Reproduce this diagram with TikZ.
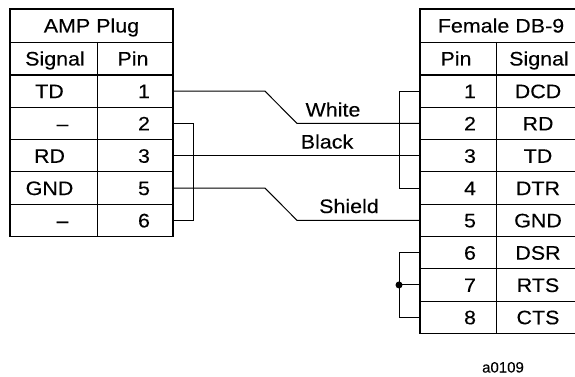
\documentclass[tikz,border=0pt]{standalone}
\usepackage{fontspec}
\setmainfont[FakeStretch=1.1,FakeBold=0.2]{Liberation Sans}
\newfontfamily\plainsans[FakeBold=0.2]{Liberation Sans}
\begin{document}
\begin{tikzpicture}[x=1pt,y=-1pt,
  frame/.style={line width=1.5pt},
  grid/.style={line width=0.9pt},
  hline/.style={line width=2pt},
  wire/.style={line width=1pt},
  txt/.style={font=\fontsize{19.5}{21}\selectfont, inner sep=0pt, anchor=base},
  lbl/.style={font=\fontsize{19.5}{21}\selectfont, inner sep=0pt, anchor=base},
  tag/.style={font=\plainsans\fontsize{15}{17}\selectfont, inner sep=0pt, anchor=base},
  joint/.style={circle, fill=black, inner sep=0pt, minimum size=7pt}]
\useasboundingbox (0,0) rectangle (575,377);
\def\rh{32.3}
% ---------- left table ----------
\draw[grid] (10,42) -- (173,42);
\foreach \k in {1,...,4} \draw[grid] (10,75+\k*\rh) -- (173,75+\k*\rh);
\draw[grid] (97,42) -- (97,236.5);
\draw[hline] (10,75) -- (173,75);
\draw[frame] (10,9) rectangle (173,236.5);
% ---------- right table ----------
\draw[grid] (420,42) -- (582,42);
\foreach \k in {1,...,7} \draw[grid] (420,75+\k*\rh) -- (582,75+\k*\rh);
\draw[grid] (496,42) -- (496,333.4);
\draw[hline] (420,75) -- (582,75);
\draw[frame] (420,9) rectangle (582,333.4);
% ---------- headers ----------
\node[txt] (lhead) at (91.5,32.5) {AMP Plug};
\node[txt] (lsig) at (55,65.5) {Signal};
\node[txt] (lpin) at (133,65.5) {Pin};
\node[txt] (rhead) at (501,32.5) {Female DB-9};
\node[txt] (rpin) at (456,65.5) {Pin};
\node[txt] (rsig) at (539,65.5) {Signal};
% ---------- left rows ----------
\foreach \i/\s/\p/\sx in {1/TD/1/49.5, 2/--/2/62.5, 3/RD/3/49.5, 4/GND/5/49.5, 5/--/6/62.5}{
  \node[txt] (ls\i) at (\sx,75+\i*\rh-\rh/2+7) {\s};
  \node[txt] (lp\i) at (144,75+\i*\rh-\rh/2+7) {\p};
  \coordinate (L\i) at (173,75+\i*\rh-\rh/2);
}
% ---------- right rows ----------
\foreach \i/\s in {1/DCD, 2/RD, 3/TD, 4/DTR, 5/GND, 6/DSR, 7/RTS, 8/CTS}{
  \node[txt] (rp\i) at (470,75+\i*\rh-\rh/2+7) {\i};
  \node[txt] (rs\i) at (538,75+\i*\rh-\rh/2+7) {\s};
  \coordinate (R\i) at (420,75+\i*\rh-\rh/2);
}
% ---------- wires ----------
\draw[wire] (L1) -- ++(92,0) -- ([xshift=-123pt]R2) -- (R2);
\draw[wire] (L3) -- (R3);
\draw[wire] (L4) -- ++(92,0) -- ([xshift=-123pt]R5) -- (R5);
\draw[wire] (L2) -- ++(20,0) |- (L5);
\draw[wire] (R1) -- ++(-21,0) |- (R4);
\draw[wire] (R6) -- ++(-21,0) |- (R8);
\coordinate (J) at ([xshift=-21pt]R7);
\draw[wire] (J) -- (R7);
\node[joint] (dot) at (J) {};
% ---------- labels ----------
\node[lbl] (white) at (333,116.5) {White};
\node[lbl] (black) at (327,148.5) {Black};
\node[lbl] (shield) at (349,213) {Shield};
\node[tag] (code) at (503,372.5) {a0109};
\end{tikzpicture}
\end{document}
